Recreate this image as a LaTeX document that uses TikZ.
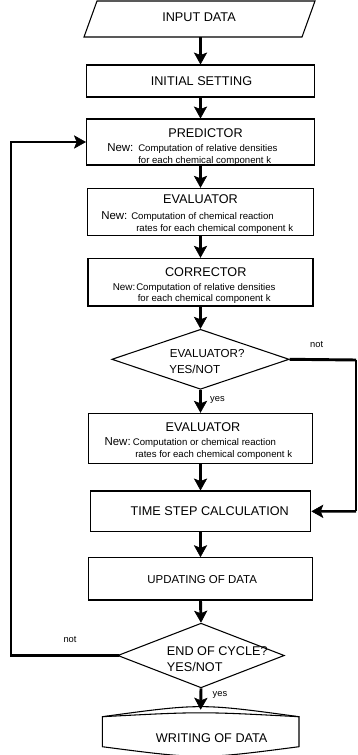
\documentclass[tikz,border=0pt]{standalone}
\usepackage{fontspec}
\setmainfont{Liberation Sans}
\usetikzlibrary{arrows.meta,shapes.geometric,fit}

\begin{document}
\begin{tikzpicture}[x=0.75pt,y=-0.75pt,
  outline/.style={line width=0.8pt},
  box/.style={draw, outline, rectangle, inner sep=0pt},
  ghost/.style={inner sep=0pt},
  decision/.style={draw, outline, diamond, inner sep=0pt},
  tip/.style={-{Stealth[length=9pt,width=10pt,inset=2pt,line width=0.4pt]}},
  conn/.style={line width=2.2pt, tip},
  wire/.style={line width=2.2pt},
  thinwire/.style={line width=0.8pt},
  title/.style={inner sep=0pt, font=\fontsize{9.5}{11}\selectfont},
  smalltitle/.style={inner sep=0pt, font=\fontsize{8.6}{10}\selectfont},
  newtag/.style={inner sep=0pt, anchor=west, text height=0.72em, text depth=0pt, font=\fontsize{8.6}{10}\selectfont},
  note/.style={inner sep=0pt, anchor=west, text height=0.72em, text depth=0pt, font=\fontsize{7.2}{8.5}\selectfont},
  dtext/.style={inner sep=0pt, anchor=west, text height=0.72em, text depth=0pt},
  branch/.style={inner sep=0pt, font=\fontsize{7}{8}\selectfont},
]
\useasboundingbox (0,0) rectangle (357,755);

% ---- input: parallelogram outline plus an anchor node
\draw[outline] (97,1) -- (315,1) -- (302,37) -- (84,37) -- cycle;
\node[ghost, fit={(86,1) (315,37)}] (in) {};
\node[title] (tIn) at (199,17) {INPUT DATA};

% ---- process boxes
\node[box, fit={(86.5,65) (314.5,97)}] (init) {};
\node[title] (tInit) at (201.5,81) {INITIAL SETTING};

\node[box, fit={(86.5,119) (314.5,165)}] (pred) {};
\node[title] (tPred) at (205.5,132.7) {PREDICTOR};
\node[newtag] (nPred) at (107,146.7) {New:};
\node[note] (aPred) at (138,146.7) {Computation of relative densities};
\node[note] (bPred) at (138,159) {for each chemical component k};

\node[box, fit={(87.5,188.3) (313.5,235.7)}] (evalA) {};
\node[title] (tEvalA) at (200.5,199.3) {EVALUATOR};
\node[newtag] (nEvalA) at (101,215) {New:};
\node[note] (aEvalA) at (131,215) {Computation of chemical reaction};
\node[note] (bEvalA) at (136,226.7) {rates for each chemical component k};

\node[box, fit={(88,258.3) (313,306)}] (corr) {};
\node[title] (tCorr) at (205.8,271.7) {CORRECTOR};
\node[newtag, font=\fontsize{7.4}{9}\selectfont] (nCorr) at (112.5,285.7) {New:};
\node[note] (aCorr) at (136,285.7) {Computation of relative densities};
\node[note] (bCorr) at (137.5,296.7) {for each chemical component k};

% ---- first decision
\node[decision, minimum width=133pt, minimum height=45pt] (dA) at (200.5,359.3) {};
\node[dtext, font=\fontsize{8.7}{10}\selectfont] (dAa) at (169.5,352.7) {EVALUATOR?};
\node[dtext, font=\fontsize{8.7}{10}\selectfont] (dAb) at (169,368.3) {YES/NOT};

\node[box, fit={(88.2,413.3) (312.8,463.3)}] (evalB) {};
\node[title] (tEvalB) at (203,427.3) {EVALUATOR};
\node[newtag] (nEvalB) at (104.3,440.7) {New:};
\node[note] (aEvalB) at (132.7,440.7) {Computation or chemical reaction};
\node[note] (bEvalB) at (135,452.7) {rates for each chemical component k};

\node[box, fit={(90.2,491) (310.8,531.7)}] (time) {};
\node[title] (tTime) at (209.7,510.7) {TIME STEP CALCULATION};

\node[box, fit={(88.5,557.7) (312.5,600)}] (upd) {};
\node[smalltitle] (tUpd) at (202.2,579.3) {UPDATING OF DATA};

% ---- second decision
\node[decision, minimum width=125pt, minimum height=48.5pt] (dB) at (201,655.5) {};
\node[dtext, font=\fontsize{9.5}{11}\selectfont] (dBa) at (166.7,651) {END OF CYCLE?};
\node[dtext, font=\fontsize{9.5}{11}\selectfont] (dBb) at (166.7,666.7) {YES/NOT};

% ---- output store
\draw[outline] (102.3,716.7) .. controls (200.6,703.3) .. (299,716.7)
  -- (299,746.7) .. controls (200.6,759.5) .. (102.3,746.7) -- cycle;
\draw[outline] (102.3,716.7) .. controls (200.6,711.5) .. (299,716.7);
\node[ghost, fit={(102.3,710) (299,753)}] (wr) {};
\node[title] (tWr) at (211.7,737.7) {WRITING OF DATA};

% ---- main flow
\draw[conn] (in.south) -- (init.north);
\draw[conn] (init.south) -- (pred.north);
\draw[conn] (pred.south) -- (evalA.north);
\draw[conn] (evalA.south) -- (corr.north);
\draw[conn] (corr.south) -- (dA.north);
\draw[conn] (dA.south) -- (evalB.north);
\draw[conn] (evalB.south) -- (time.north);
\draw[conn] (time.south) -- (upd.north);
\draw[conn] (upd.south) -- (dB.north);
\draw[conn] (dB.south) -- (wr.north);

% ---- bypass of the second evaluator
\coordinate (rA) at (356,360);
\coordinate (rB) at (356,511.3);
\draw[wire] (dA.east) -- (rA);
\draw[thinwire] (rA) -- (rB);
\draw[conn, line width=1.8pt] (rB) -- (time.east);

% ---- loop back to the predictor
\coordinate (lA) at (11,142);
\draw[wire, line cap=rect] (dB.west) -| (lA);
\draw[conn] (lA) -- (pred.west);

% ---- branch labels
\node[branch] (nNotA) at (316.7,345) {not};
\node[branch] (nYesA) at (217.5,400) {yes};
\node[branch] (nNotB) at (70,640) {not};
\node[branch] (nYesB) at (220,695) {yes};
\end{tikzpicture}
\end{document}
